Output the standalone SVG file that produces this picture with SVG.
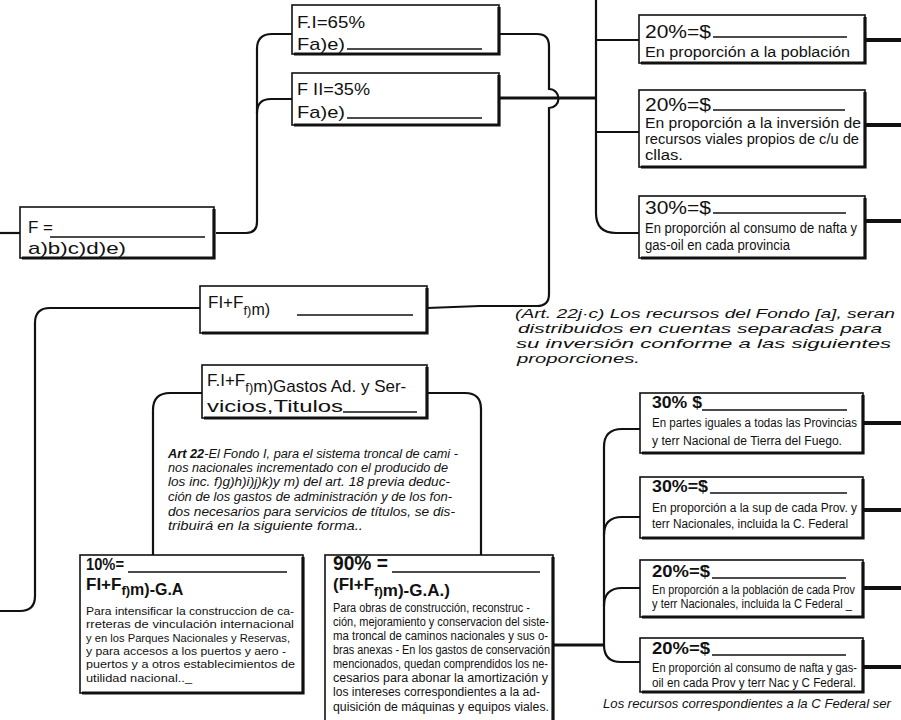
<svg xmlns="http://www.w3.org/2000/svg" width="901" height="720" viewBox="0 0 901 720">
<style>
.bx{fill:#fff;stroke:#111;stroke-width:1.6}
.sh{fill:none;stroke:#111;stroke-width:3.2}
.ln{fill:none;stroke:#111;stroke-width:2.2}
.tk{fill:none;stroke:#111;stroke-width:4}
.ul{stroke:#111;stroke-width:1.3}
text{font-family:"Liberation Sans","DejaVu Sans",sans-serif;fill:#111}
.h{font-size:17px}
.hh{font-size:19px}
.hb{font-size:17px;font-weight:bold}
.m{font-size:14px}
.b{font-size:12.5px}
.s{font-size:11.5px}
.it{font-style:italic;font-size:13.5px}
.it2{font-style:italic;font-size:12px}
</style>
<rect width="901" height="720" fill="#fff"/>

<g id="connectors">
<path class="ln" d="M0,233 L20,233"/>
<path class="ln" d="M216,233 L246,233 Q257,233 257,222 L257,49 Q257,34 272,34 L292,34"/>
<path class="ln" d="M292,99 L271,99 Q257,99 257,113"/>
<path class="ln" d="M499,34 L537,34 Q549,34 549,46 L549,89 A9.5,9.5 0 0 1 549,108 L549,294 Q549,306 537,306 L480,306 L427,308"/>
<path class="ln" style="stroke-width:3" d="M499,98 L596,98"/>
<path class="ln" d="M596,0 L596,213 Q596,233 616,233 L639,233"/>
<path class="ln" d="M596,40 L639,40"/>
<path class="ln" d="M596,132 L639,132"/>
<path class="ln" d="M200,308 L50,308 Q35,308 35,323 L35,596 Q35,611 20,611 L0,611"/>
<path class="ln" d="M202,393 L170,393 Q153,393 153,410 L153,555"/>
<path class="ln" d="M427,393 L465,393 Q481,393 481,409 L481,555"/>
<path class="ln" style="stroke-width:3" d="M553,645 L604,645"/>
<path class="ln" d="M640,429 L622,429 Q604,429 604,447 L604,645 Q604,662 621,662 L640,662"/>
<path class="ln" d="M604,535 Q604,517 622,517 L640,517"/>
<path class="ln" d="M604,606 Q604,588 622,588 L640,588"/>
<path class="tk" d="M865,40 L901,40"/>
<path class="tk" d="M865,125 L901,125"/>
<path class="tk" d="M865,221 L901,221"/>
<path class="tk" d="M863,423 L901,423"/>
<path class="tk" d="M863,510 L901,510"/>
<path class="tk" d="M863,588 L901,588"/>
<path class="tk" d="M863,667 L901,667"/>
</g>

<g id="n-f">
<rect class="bx" x="20" y="207" width="194" height="51"/>
<path class="sh" d="M214,209 L214,258 L22,258"/>
<text class="h" x="28" y="233">F =</text>
<line class="ul" x1="50" y1="237" x2="205" y2="237"/>
<text class="h" x="28" y="254" textLength="98" lengthAdjust="spacingAndGlyphs">a)b)c)d)e)</text>
</g>

<g id="n-fi">
<rect class="bx" x="292" y="5" width="207" height="49"/>
<path class="sh" d="M499,7 L499,54 L294,54"/>
<text class="h" x="297" y="28" textLength="68" lengthAdjust="spacingAndGlyphs">F.I=65%</text>
<text class="h" x="297" y="50" textLength="48" lengthAdjust="spacingAndGlyphs">Fa)e)</text>
<line class="ul" x1="347" y1="49" x2="482" y2="49"/>
</g>

<g id="n-fii">
<rect class="bx" x="292" y="73" width="207" height="52"/>
<path class="sh" d="M499,75 L499,125 L294,125"/>
<text class="h" x="297" y="95" textLength="73" lengthAdjust="spacingAndGlyphs">F II=35%</text>
<text class="h" x="297" y="118" textLength="48" lengthAdjust="spacingAndGlyphs">Fa)e)</text>
<line class="ul" x1="347" y1="118" x2="482" y2="118"/>
</g>

<g id="n-fif">
<rect class="bx" x="200" y="286" width="227" height="47"/>
<path class="sh" d="M427,288 L427,333 L202,333"/>
<text class="h" x="208" y="308">FI+F<tspan dy="7" font-size="13">f)</tspan><tspan font-size="16">m)</tspan></text>
<line class="ul" x1="297" y1="315" x2="413" y2="315"/>
</g>

<g id="n-gastos">
<rect class="bx" x="202" y="365" width="225" height="53"/>
<path class="sh" d="M427,367 L427,418 L204,418"/>
<text class="h" x="207" y="386">F.I+F<tspan dy="6" font-size="13">f)</tspan><tspan font-size="17">m)Gastos Ad. y Ser-</tspan></text>
<text class="h" x="207" y="412" textLength="136" lengthAdjust="spacingAndGlyphs">vicios,Titulos</text>
<line class="ul" x1="343" y1="412" x2="417" y2="412"/>
</g>

<g id="t-art22">
<text class="it2" x="168" y="458" textLength="290" lengthAdjust="spacingAndGlyphs"><tspan font-weight="bold">Art 22</tspan>-El Fondo I, para el sistema troncal de cami -</text>
<text class="it2" x="168" y="472" textLength="280" lengthAdjust="spacingAndGlyphs">nos nacionales incrementado con el producido de</text>
<text class="it2" x="168" y="486" textLength="282" lengthAdjust="spacingAndGlyphs">los inc. f)g)h)i)j)k)y m) del art. 18 previa deduc-</text>
<text class="it2" x="168" y="501" textLength="284" lengthAdjust="spacingAndGlyphs">ción de los gastos de administración y de los fon-</text>
<text class="it2" x="168" y="516" textLength="287" lengthAdjust="spacingAndGlyphs">dos necesarios para servicios de títulos, se dis-</text>
<text class="it2" x="168" y="530" textLength="195" lengthAdjust="spacingAndGlyphs">tribuirá en la siguiente forma..</text>
</g>

<g id="n-10">
<rect class="bx" x="80" y="555" width="223" height="138"/>
<path class="sh" d="M303,557 L303,693 L82,693"/>
<text class="hb" x="86" y="570" textLength="38" lengthAdjust="spacingAndGlyphs">10%=</text>
<line class="ul" x1="128" y1="572" x2="287" y2="572"/>
<text class="hb" x="86" y="590">FI+F<tspan dy="5" font-size="13">f)</tspan><tspan font-size="16">m)-G.A</tspan></text>
<text class="s" x="86" y="615" textLength="208" lengthAdjust="spacingAndGlyphs">Para intensificar la construccion de ca-</text>
<text class="s" x="86" y="628" textLength="208" lengthAdjust="spacingAndGlyphs">rreteras de vinculación internacional</text>
<text class="s" x="86" y="642" textLength="204" lengthAdjust="spacingAndGlyphs">y en los Parques Nacionales y Reservas,</text>
<text class="s" x="86" y="655" textLength="200" lengthAdjust="spacingAndGlyphs">y para accesos a los puertos y aero -</text>
<text class="s" x="86" y="668" textLength="209" lengthAdjust="spacingAndGlyphs">puertos y a otros establecimientos de</text>
<text class="s" x="86" y="682" textLength="106" lengthAdjust="spacingAndGlyphs">utilidad nacional.._</text>
</g>

<g id="n-90">
<rect class="bx" x="325" y="555" width="228" height="172"/>
<path class="sh" d="M553,557 L553,727"/>
<text class="hb" x="333" y="570" style="font-size:20px" textLength="55" lengthAdjust="spacingAndGlyphs">90% =</text>
<line class="ul" x1="392" y1="572" x2="540" y2="572"/>
<text class="hb" x="333" y="590">(FI+F<tspan dy="6" font-size="13">f)</tspan><tspan font-size="17">m)-G.A.)</tspan></text>
<text class="b" x="333" y="612" textLength="197" lengthAdjust="spacingAndGlyphs">Para obras de construcción, reconstruc -</text>
<text class="b" x="333" y="626" textLength="216" lengthAdjust="spacingAndGlyphs">ción, mejoramiento y conservacion del siste-</text>
<text class="b" x="333" y="640" textLength="215" lengthAdjust="spacingAndGlyphs">ma troncal de caminos nacionales y sus o-</text>
<text class="b" x="333" y="654" textLength="217" lengthAdjust="spacingAndGlyphs">bras anexas - En los gastos de conservación</text>
<text class="b" x="333" y="668" textLength="215" lengthAdjust="spacingAndGlyphs">mencionados, quedan comprendidos los ne-</text>
<text class="b" x="333" y="682" textLength="215" lengthAdjust="spacingAndGlyphs">cesarios para abonar la amortización y</text>
<text class="b" x="333" y="696" textLength="207" lengthAdjust="spacingAndGlyphs">los intereses correspondientes a la ad-</text>
<text class="b" x="333" y="711" textLength="216" lengthAdjust="spacingAndGlyphs">quisición de máquinas y equipos viales.</text>
</g>

<g id="n-a20">
<rect class="bx" x="639" y="15" width="226" height="48"/>
<path class="sh" d="M865,17 L865,63 L641,63"/>
<text class="hh" x="645" y="38" textLength="66" lengthAdjust="spacingAndGlyphs">20%=$</text>
<line class="ul" x1="713" y1="37" x2="847" y2="37"/>
<text class="m" x="645" y="57" textLength="205" lengthAdjust="spacingAndGlyphs">En proporción a la población</text>
</g>

<g id="n-b20">
<rect class="bx" x="639" y="90" width="226" height="77"/>
<path class="sh" d="M865,92 L865,167 L641,167"/>
<text class="hh" x="645" y="111" textLength="66" lengthAdjust="spacingAndGlyphs">20%=$</text>
<line class="ul" x1="713" y1="110" x2="845" y2="110"/>
<text class="m" x="645" y="128" textLength="216" lengthAdjust="spacingAndGlyphs">En proporción a la inversión de</text>
<text class="m" x="645" y="144" textLength="214" lengthAdjust="spacingAndGlyphs">recursos viales propios de c/u de</text>
<text class="m" x="645" y="160" textLength="38" lengthAdjust="spacingAndGlyphs">cllas.</text>
</g>

<g id="n-c30">
<rect class="bx" x="639" y="196" width="226" height="62"/>
<path class="sh" d="M865,198 L865,258 L641,258"/>
<text class="hh" x="645" y="214" textLength="66" lengthAdjust="spacingAndGlyphs">30%=$</text>
<line class="ul" x1="713" y1="213" x2="846" y2="213"/>
<text class="m" x="645" y="233" textLength="212" lengthAdjust="spacingAndGlyphs">En proporción al consumo de nafta y</text>
<text class="m" x="645" y="250" textLength="145" lengthAdjust="spacingAndGlyphs">gas-oil en cada provincia</text>
</g>

<g id="t-art22jc">
<text class="it" x="515" y="318" textLength="380" lengthAdjust="spacingAndGlyphs">(Art. 22j·c) Los recursos del Fondo [a], seran</text>
<text class="it" x="518" y="333" textLength="364" lengthAdjust="spacingAndGlyphs">distribuidos en cuentas separadas para</text>
<text class="it" x="516" y="348" textLength="375" lengthAdjust="spacingAndGlyphs">su inversión conforme a las siguientes</text>
<text class="it" x="517" y="363" textLength="123" lengthAdjust="spacingAndGlyphs">proporciones.</text>
</g>

<g id="n-r1">
<rect class="bx" x="640" y="393" width="223" height="60"/>
<path class="sh" d="M863,395 L863,453 L642,453"/>
<text class="hb" x="652" y="408" textLength="50" lengthAdjust="spacingAndGlyphs">30% $</text>
<line class="ul" x1="702" y1="410" x2="847" y2="410"/>
<text class="b" x="652" y="427" textLength="205" lengthAdjust="spacingAndGlyphs">En partes iguales a todas las Provincias</text>
<text class="b" x="652" y="445" textLength="190" lengthAdjust="spacingAndGlyphs">y terr Nacional de Tierra del Fuego.</text>
</g>

<g id="n-r2">
<rect class="bx" x="640" y="477" width="223" height="61"/>
<path class="sh" d="M863,479 L863,538 L642,538"/>
<text class="hb" x="652" y="492" textLength="56" lengthAdjust="spacingAndGlyphs">30%=$</text>
<line class="ul" x1="710" y1="493" x2="847" y2="493"/>
<text class="b" x="652" y="512" textLength="205" lengthAdjust="spacingAndGlyphs">En proporción a la sup de cada Prov. y</text>
<text class="b" x="652" y="528" textLength="196" lengthAdjust="spacingAndGlyphs">terr Nacionales, incluida la C. Federal</text>
</g>

<g id="n-r3">
<rect class="bx" x="640" y="560" width="223" height="57"/>
<path class="sh" d="M863,562 L863,617 L642,617"/>
<text class="hb" x="652" y="577" textLength="58" lengthAdjust="spacingAndGlyphs">20%=$</text>
<line class="ul" x1="712" y1="578" x2="846" y2="578"/>
<text class="b" x="652" y="594" textLength="203" lengthAdjust="spacingAndGlyphs">En proporción a la población de cada Prov</text>
<text class="b" x="652" y="608" textLength="200" lengthAdjust="spacingAndGlyphs">y terr Nacionales, incluida la C Federal _</text>
</g>

<g id="n-r4">
<rect class="bx" x="640" y="638" width="223" height="54"/>
<path class="sh" d="M863,640 L863,692 L642,692"/>
<text class="hb" x="652" y="654" textLength="58" lengthAdjust="spacingAndGlyphs">20%=$</text>
<line class="ul" x1="712" y1="655" x2="846" y2="655"/>
<text class="b" x="652" y="672" textLength="205" lengthAdjust="spacingAndGlyphs">En proporción al consumo de nafta y gas-</text>
<text class="b" x="652" y="687" textLength="204" lengthAdjust="spacingAndGlyphs">oil en cada Prov y terr Nac y C Federal.</text>
</g>

<g id="t-bottom">
<text class="it" x="603" y="708" textLength="288" lengthAdjust="spacingAndGlyphs">Los recursos correspondientes a la C Federal ser</text>
</g>
</svg>
